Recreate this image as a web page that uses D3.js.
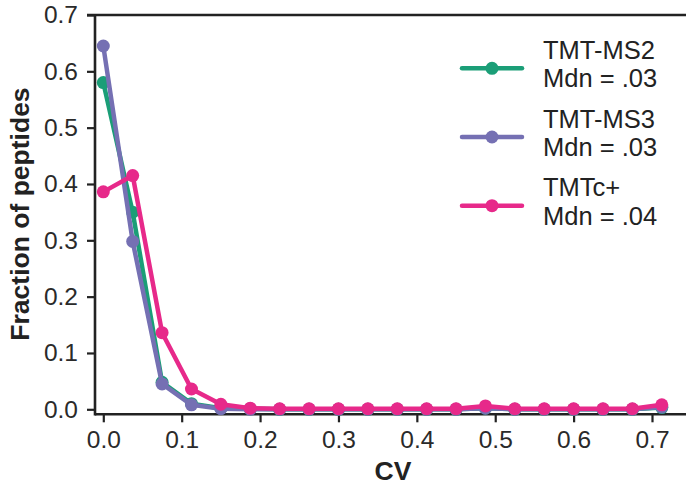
<!DOCTYPE html>
<html>
<head>
<meta charset="utf-8">
<script src="https://cdn.jsdelivr.net/npm/d3@7"></script>
<style>
  body { margin: 0; background: #fff; }
  svg { display: block; font-family: 'Liberation Sans', Arial, sans-serif; }
</style>
</head>
<body>
<div id="container"></div>
<script>
const width = 686;
const height = 487;

// bin centres (CV)
const cvBins = [0, 0.0375, 0.075, 0.1125, 0.15, 0.1875, 0.225, 0.2625, 0.3, 0.3375,
                0.375, 0.4125, 0.45, 0.4875, 0.525, 0.5625, 0.6, 0.6375, 0.675, 0.7125];

const ms2Values = [0.58, 0.35, 0.048, 0.010, 0.002, 0.001, 0, 0, 0, 0,
                   0, 0, 0, 0.002, 0, 0, 0, 0, 0, 0.003];
const ms3Values = [0.645, 0.298, 0.045, 0.008, 0.001, 0, 0, 0, 0, 0,
                   0, 0, 0, 0.002, 0, 0, 0, 0, 0, 0.004];
const tmtcValues = [0.386, 0.415, 0.136, 0.036, 0.009, 0.002, 0.001, 0.001, 0.001, 0.001,
                    0.001, 0.001, 0.001, 0.006, 0.001, 0.001, 0.001, 0.001, 0.001, 0.008];

const seriesNames = ['TMT-MS2', 'TMT-MS3', 'TMTc+'];
const seriesMedians = ['Mdn = .03', 'Mdn = .03', 'Mdn = .04'];
const seriesColors = ['#1b9e77', '#7570b3', '#e7298a'];
const seriesValues = [ms2Values, ms3Values, tmtcValues];

const xTicks = [0, 0.1, 0.2, 0.3, 0.4, 0.5, 0.6, 0.7];
const yTicks = [0, 0.1, 0.2, 0.3, 0.4, 0.5, 0.6, 0.7];

const axisColor = '#222';

const svg = d3.select('#container')
    .append('svg')
    .attr('width', width)
    .attr('height', height);

const x = d3.scaleLinear().domain([0, 0.7]).range([103.3, 652]);
const y = d3.scaleLinear().domain([0, 0.7]).range([409.3, 15]);

const xSpineY = 414.3;
const ySpineX = 95;

/* AXES */
const xAxis = svg.append('g')
    .attr('transform', `translate(0,${xSpineY})`)
    .call(d3.axisBottom(x).tickValues(xTicks).tickFormat(d3.format('.1f')).tickSize(8).tickPadding(8));

const yAxis = svg.append('g')
    .attr('transform', `translate(${ySpineX},0)`)
    .call(d3.axisLeft(y).tickValues(yTicks).tickFormat(d3.format('.1f')).tickSize(8).tickPadding(9));

[xAxis, yAxis].forEach(ax => {
    ax.select('.domain').remove();
    ax.selectAll('line').attr('stroke', axisColor).attr('stroke-width', 2.2);
    ax.selectAll('text')
        .attr('fill', '#2a2a2a')
        .style('font-family', "'Liberation Sans', Arial, sans-serif")
        .style('font-size', '24.5px');
});

// spines
svg.append('line')
    .attr('x1', ySpineX).attr('x2', width)
    .attr('y1', xSpineY).attr('y2', xSpineY)
    .attr('stroke', axisColor).attr('stroke-width', 2.6);

svg.append('line')
    .attr('x1', ySpineX).attr('x2', ySpineX)
    .attr('y1', y(0.7)).attr('y2', xSpineY + 1.3)
    .attr('stroke', axisColor).attr('stroke-width', 2.6);

svg.append('line')
    .attr('x1', ySpineX - 8).attr('x2', width)
    .attr('y1', y(0.7)).attr('y2', y(0.7))
    .attr('stroke', axisColor).attr('stroke-width', 2.6);

// axis titles
svg.append('text')
    .attr('x', 393)
    .attr('y', 480)
    .attr('text-anchor', 'middle')
    .attr('fill', '#222')
    .style('font-weight', 'bold')
    .style('font-size', '26.5px')
    .text('CV');

svg.append('text')
    .attr('transform', 'translate(29,214) rotate(-90)')
    .attr('text-anchor', 'middle')
    .attr('fill', '#222')
    .style('font-weight', 'bold')
    .style('font-size', '26.5px')
    .text('Fraction of peptides');

/* LINES */
const line = d3.line()
    .x((d, i) => x(cvBins[i]))
    .y(d => y(d));

seriesValues.forEach((vals, k) => {
    const g = svg.append('g');
    g.append('path')
        .datum(vals)
        .attr('d', line)
        .attr('fill', 'none')
        .attr('stroke', seriesColors[k])
        .attr('stroke-width', 4.5)
        .attr('stroke-linejoin', 'round');
    g.selectAll('circle')
        .data(vals)
        .enter().append('circle')
        .attr('cx', (d, i) => x(cvBins[i]))
        .attr('cy', d => y(d))
        .attr('r', 6.5)
        .attr('fill', seriesColors[k]);
});

/* LEGEND */
const legend = svg.append('g');
seriesNames.forEach((name, k) => {
    const ly = 68.3 + k * 68.7;
    legend.append('line')
        .attr('x1', 462).attr('x2', 522)
        .attr('y1', ly).attr('y2', ly)
        .attr('stroke', seriesColors[k])
        .attr('stroke-width', 4.5)
        .attr('stroke-linecap', 'round');
    legend.append('circle')
        .attr('cx', 492).attr('cy', ly)
        .attr('r', 6.5)
        .attr('fill', seriesColors[k]);
    legend.append('text')
        .attr('x', 543).attr('y', ly - 9.5)
        .attr('fill', '#222')
        .style('font-size', '25.5px')
        .text(name);
    legend.append('text')
        .attr('x', 543).attr('y', ly + 19)
        .attr('fill', '#222')
        .style('font-size', '25.5px')
        .text(seriesMedians[k]);
});
</script>
</body>
</html>
